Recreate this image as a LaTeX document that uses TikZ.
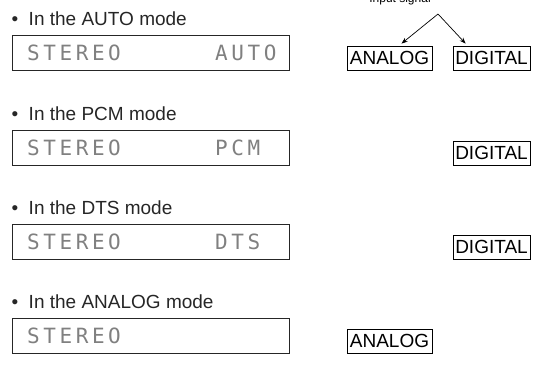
\documentclass[tikz,border=0pt]{standalone}
\usepackage{fontspec}
\setmainfont{Liberation Sans}
\newfontfamily\lcdfont[LetterSpace=17]{DejaVu Sans Mono}
\usetikzlibrary{arrows.meta}

\begin{document}
\begin{tikzpicture}[x=1pt,y=-1pt,>=Stealth,
  heading/.style={anchor=west,font=\fontsize{19}{21}\selectfont,text=black!85},
  display/.style={draw=black!85,line width=1.1pt,anchor=north west,minimum width=277pt,minimum height=35pt,inner sep=0pt},
  lcd/.style={anchor=west,inner sep=0pt,font=\lcdfont\fontsize{21}{21}\selectfont,text=black!50},
  signal/.style={draw,line width=0.8pt,minimum height=24pt,inner sep=1pt,font=\fontsize{19}{21}\selectfont},
  arrow/.style={->,line width=0.7pt}]
\useasboundingbox (0,0) rectangle (534,367); \clip (0,0) rectangle (534,367);
% AUTO
\node[heading] (h1) at (8,19) {\textbullet\ \ In the AUTO mode};
\node[display] (d1) at (12,35) {}; \node[lcd] (s1) at (27,53) {STEREO}; \node[lcd] (m1) at (215,53) {AUTO};
\node[signal,minimum width=85pt] (a1) at (389.5,58) {ANALOG}; \node[signal,minimum width=77pt] (g1) at (491.5,58) {DIGITAL};
\node[font=\fontsize{12}{14}\selectfont] (in) at (400,-1) {Input signal}; \coordinate (top) at (438,14);
\draw[arrow] (top) -- ([xshift=12pt,yshift=2pt]a1.north); \draw[arrow] (top) -- ([xshift=13pt,yshift=2pt]g1.north west);
% PCM
\node[heading] (h2) at (8,114) {\textbullet\ \ In the PCM mode};
\node[display] (d2) at (12,130) {}; \node[lcd] (s2) at (27,148) {STEREO}; \node[lcd] (m2) at (215,148) {PCM};
\node[signal,minimum width=77pt] (g2) at (491.5,153) {DIGITAL};
% DTS
\node[heading] (h3) at (8,208) {\textbullet\ \ In the DTS mode};
\node[display] (d3) at (12,224) {}; \node[lcd] (s3) at (27,242) {STEREO}; \node[lcd] (m3) at (215,242) {DTS};
\node[signal,minimum width=77pt] (g3) at (491.5,247) {DIGITAL};
% ANALOG
\node[heading] (h4) at (8,302) {\textbullet\ \ In the ANALOG mode};
\node[display] (d4) at (12,318) {}; \node[lcd] (s4) at (27,336) {STEREO};
\node[signal,minimum width=85pt] (a4) at (389.5,341) {ANALOG};
\end{tikzpicture}
\end{document}
